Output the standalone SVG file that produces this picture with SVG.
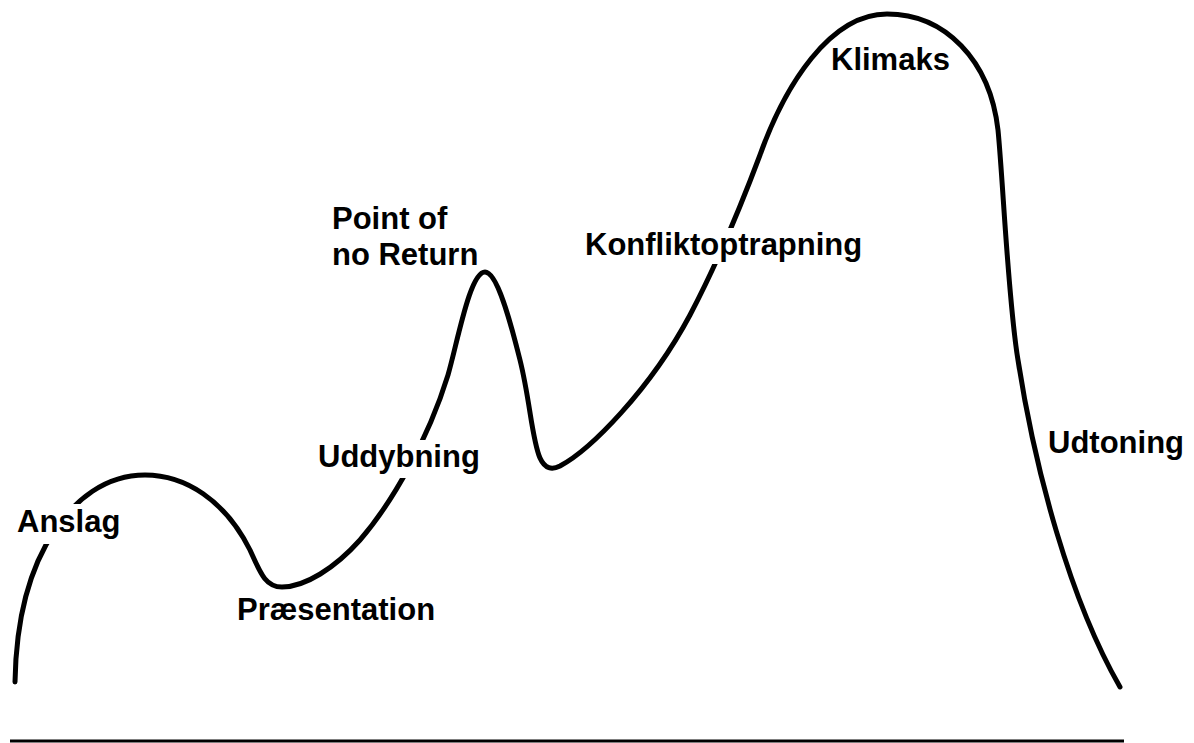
<svg xmlns="http://www.w3.org/2000/svg" width="1194" height="743" viewBox="0 0 1194 743">
<style>
.curve{fill:none;stroke:#000;stroke-width:5;stroke-linecap:round;stroke-linejoin:round}
.base{fill:none;stroke:#000;stroke-width:3}
.lbl{font-family:"Liberation Sans",Arial,sans-serif;font-weight:bold;font-size:31px;fill:#000}
.bg{fill:#fff}
</style>
<rect x="0" y="0" width="1194" height="743" fill="#fff"/>
<g id="connectors">
<path class="curve" d="M15,682 C16,620 28,570 55,530 C75,500 105,475 145,475 C185,475 225,500 250,550 C260,572 265,587 282,587 C305,587 335,568 360,540 C392,503 428,440 448,375 C458,340 470,272 485,272 C497,272 510,320 520,360 C530,400 532,440 540,458 C545,469 552,470 560,466 C590,450 650,390 690,315 C720,258 745,195 760,155 C785,85 830,14 887,14 C945,14 990,60 998,130 C1003,180 1008,300 1018,360 C1035,470 1070,600 1120,687"/>
<line class="base" x1="10" y1="741" x2="1124" y2="741"/>
</g>
<g id="anslag">
<rect class="bg" x="14" y="504" width="110" height="40"/>
<text class="lbl" x="17" y="532">Anslag</text>
</g>
<g id="praesentation">
<text class="lbl" x="237" y="620">Præsentation</text>
</g>
<g id="uddybning">
<rect class="bg" x="314" y="440" width="170" height="38"/>
<text class="lbl" x="318" y="467">Uddybning</text>
</g>
<g id="point-of-no-return">
<text class="lbl" x="332" y="229">Point of</text>
<text class="lbl" x="332" y="265">no Return</text>
</g>
<g id="konfliktoptrapning">
<rect class="bg" x="582" y="228" width="286" height="36"/>
<text class="lbl" x="585" y="255">Konfliktoptrapning</text>
</g>
<g id="klimaks">
<text class="lbl" x="831" y="70">Klimaks</text>
</g>
<g id="udtoning">
<text class="lbl" x="1048" y="453">Udtoning</text>
</g>
</svg>
